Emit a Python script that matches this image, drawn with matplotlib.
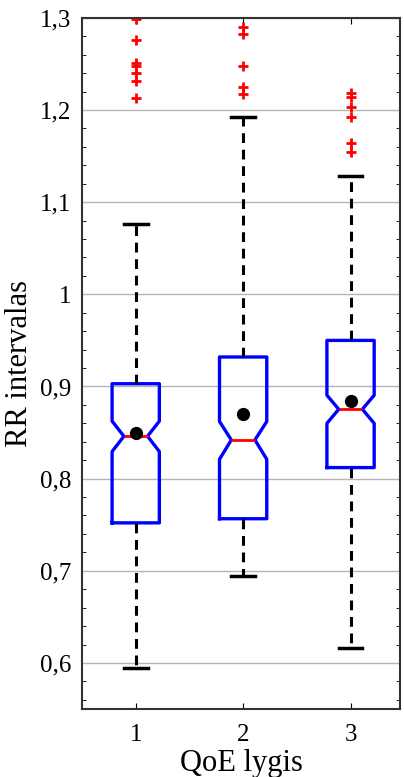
#Notched boxplots of RR intervals for each QoE level
import numpy as np
import matplotlib
matplotlib.use('Agg')
import matplotlib.pyplot as plt
from matplotlib.ticker import MultipleLocator

#values
groups = [1, 2, 3]
q1 = [0.752, 0.7565, 0.812]
q3 = [0.9030, 0.932, 0.950]
medians = [0.846, 0.842, 0.8753]
notch_lo = [0.8294, 0.821, 0.860]
notch_hi = [0.8624, 0.862, 0.8905]
whisker_lo = [0.594, 0.694, 0.6164]
whisker_hi = [1.076, 1.192, 1.128]
means = [0.849, 0.8696, 0.8843]
outliers = [
    [1.2986, 1.276, 1.2508, 1.248, 1.2406, 1.231, 1.2127],
    [1.290, 1.283, 1.248, 1.2247, 1.217],
    [1.219, 1.2138, 1.203, 1.1927, 1.1638, 1.1547],
]
ytick_values = [0.6, 0.7, 0.8, 0.9, 1.0, 1.1, 1.2, 1.3]
ytick_labels = ['0,6', '0,7', '0,8', '0,9', '1', '1,1', '1,2', '1,3']

plt.rcParams['font.family'] = ['Liberation Serif', 'DejaVu Serif']

stats = []
for i in range(len(groups)):
    stats.append({'med': medians[i], 'q1': q1[i], 'q3': q3[i],
                  'cilo': notch_lo[i], 'cihi': notch_hi[i],
                  'whislo': whisker_lo[i], 'whishi': whisker_hi[i],
                  'mean': means[i], 'fliers': outliers[i], 'label': str(groups[i])})

fig = plt.figure(figsize=(4.04, 7.77), dpi=100)
ax = fig.add_axes([0.203, 0.0875, 0.787, 0.8895])

ax.grid(axis='y', color='#b4b4b4', linewidth=1)
ax.set_axisbelow(True)

ax.bxp(stats, positions=groups, widths=0.44, shownotches=True, showmeans=True,
       boxprops=dict(color='#0000ff', linewidth=2.4),
       medianprops=dict(color='#ff0000', linewidth=2),
       whiskerprops=dict(color='black', linewidth=2.2, linestyle=(0, (3.2, 2.2))),
       capprops=dict(color='black', linewidth=2.5),
       meanprops=dict(marker='o', markerfacecolor='black', markeredgecolor='black', markersize=8.5),
       flierprops=dict(marker='+', markeredgecolor='#ff0000', markersize=7, markeredgewidth=2))

ax.set_xlim(0.5, 3.46)
ax.set_ylim(0.55, 1.3)
ax.set_xticks(groups)
ax.set_xticklabels([str(g) for g in groups])
ax.set_yticks(ytick_values)
ax.set_yticklabels(ytick_labels)
ax.yaxis.set_minor_locator(MultipleLocator(0.02))
ax.tick_params(which='both', direction='in', top=True, right=True, labelsize=18)
ax.tick_params(which='major', length=0, pad=8)
ax.tick_params(axis='x', which='major', length=4, pad=11)
ax.tick_params(which='minor', length=3)

for s in ax.spines.values():
    s.set_linewidth(1.5)
    s.set_color('#333333')

ax.set_xlabel('QoE lygis', fontsize=22, labelpad=2)
ax.set_ylabel('RR intervalas', fontsize=22, labelpad=4)

plt.savefig('out.png', dpi=100)
